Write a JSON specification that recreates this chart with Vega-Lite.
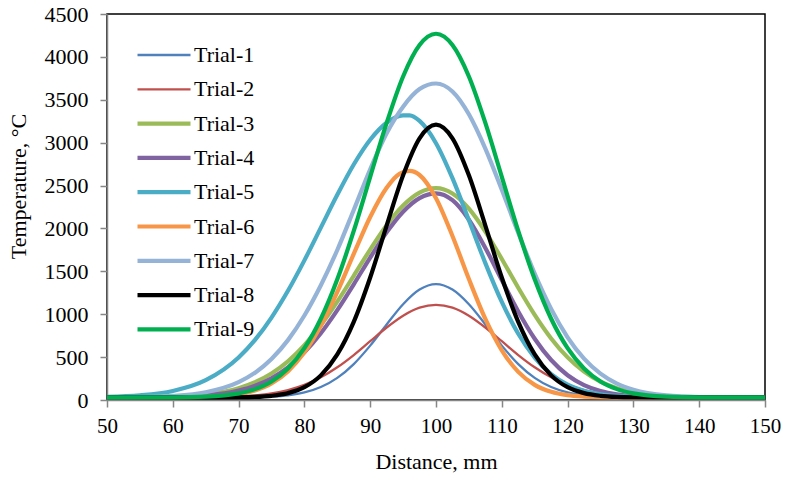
{
"$schema":"https://vega.github.io/schema/vega-lite/v6.json",
"width":658,"height":386,
"autosize":{"type":"none"},
"padding":{"left":107,"top":14,"right":21,"bottom":77},
"background":"white",
"config":{"view":{"stroke":"#000","strokeWidth":1.5},"font":"Liberation Serif",
"legend":{"orient":"none","legendX":28,"legendY":26,"direction":"vertical","symbolType":"stroke","symbolSize":2809,"clipHeight":30,"rowPadding":4.3,"labelFont":"Liberation Serif","labelFontSize":22,"labelColor":"#000","labelOffset":1,"padding":0,"symbolOpacity":1}},
"datasets":{"curves":[
{"trial":"Trial-1","distance":50,"temperature":30},{"trial":"Trial-1","distance":55,"temperature":30},{"trial":"Trial-1","distance":60,"temperature":30},{"trial":"Trial-1","distance":65,"temperature":30},{"trial":"Trial-1","distance":70,"temperature":31},{"trial":"Trial-1","distance":72.5,"temperature":34},{"trial":"Trial-1","distance":75,"temperature":40},{"trial":"Trial-1","distance":77.5,"temperature":55},{"trial":"Trial-1","distance":80,"temperature":88},{"trial":"Trial-1","distance":82.5,"temperature":151},{"trial":"Trial-1","distance":85,"temperature":258},{"trial":"Trial-1","distance":87.5,"temperature":419},{"trial":"Trial-1","distance":90,"temperature":634},{"trial":"Trial-1","distance":92.5,"temperature":881},{"trial":"Trial-1","distance":95,"temperature":1116},{"trial":"Trial-1","distance":97.5,"temperature":1287},{"trial":"Trial-1","distance":100,"temperature":1350},{"trial":"Trial-1","distance":102.5,"temperature":1287},{"trial":"Trial-1","distance":105,"temperature":1116},{"trial":"Trial-1","distance":107.5,"temperature":881},{"trial":"Trial-1","distance":110,"temperature":634},{"trial":"Trial-1","distance":112.5,"temperature":419},{"trial":"Trial-1","distance":115,"temperature":258},{"trial":"Trial-1","distance":117.5,"temperature":151},{"trial":"Trial-1","distance":120,"temperature":88},{"trial":"Trial-1","distance":122.5,"temperature":55},{"trial":"Trial-1","distance":125,"temperature":40},{"trial":"Trial-1","distance":127.5,"temperature":34},{"trial":"Trial-1","distance":130,"temperature":31},{"trial":"Trial-1","distance":135,"temperature":30},{"trial":"Trial-1","distance":140,"temperature":30},{"trial":"Trial-1","distance":145,"temperature":30},{"trial":"Trial-1","distance":150,"temperature":30},
{"trial":"Trial-2","distance":50,"temperature":30},{"trial":"Trial-2","distance":55,"temperature":30},{"trial":"Trial-2","distance":60,"temperature":30},{"trial":"Trial-2","distance":65,"temperature":32},{"trial":"Trial-2","distance":70,"temperature":42},{"trial":"Trial-2","distance":72.5,"temperature":55},{"trial":"Trial-2","distance":75,"temperature":77},{"trial":"Trial-2","distance":77.5,"temperature":116},{"trial":"Trial-2","distance":80,"temperature":176},{"trial":"Trial-2","distance":82.5,"temperature":264},{"trial":"Trial-2","distance":85,"temperature":381},{"trial":"Trial-2","distance":87.5,"temperature":524},{"trial":"Trial-2","distance":90,"temperature":685},{"trial":"Trial-2","distance":92.5,"temperature":845},{"trial":"Trial-2","distance":95,"temperature":983},{"trial":"Trial-2","distance":97.5,"temperature":1077},{"trial":"Trial-2","distance":100,"temperature":1110},{"trial":"Trial-2","distance":102.5,"temperature":1077},{"trial":"Trial-2","distance":105,"temperature":983},{"trial":"Trial-2","distance":107.5,"temperature":845},{"trial":"Trial-2","distance":110,"temperature":685},{"trial":"Trial-2","distance":112.5,"temperature":524},{"trial":"Trial-2","distance":115,"temperature":381},{"trial":"Trial-2","distance":117.5,"temperature":264},{"trial":"Trial-2","distance":120,"temperature":176},{"trial":"Trial-2","distance":122.5,"temperature":116},{"trial":"Trial-2","distance":125,"temperature":77},{"trial":"Trial-2","distance":127.5,"temperature":55},{"trial":"Trial-2","distance":130,"temperature":42},{"trial":"Trial-2","distance":135,"temperature":32},{"trial":"Trial-2","distance":140,"temperature":30},{"trial":"Trial-2","distance":145,"temperature":30},{"trial":"Trial-2","distance":150,"temperature":30},
{"trial":"Trial-3","distance":50,"temperature":30},{"trial":"Trial-3","distance":55,"temperature":32},{"trial":"Trial-3","distance":60,"temperature":39},{"trial":"Trial-3","distance":65,"temperature":65},{"trial":"Trial-3","distance":70,"temperature":137},{"trial":"Trial-3","distance":72.5,"temperature":207},{"trial":"Trial-3","distance":75,"temperature":309},{"trial":"Trial-3","distance":77.5,"temperature":451},{"trial":"Trial-3","distance":80,"temperature":639},{"trial":"Trial-3","distance":82.5,"temperature":873},{"trial":"Trial-3","distance":85,"temperature":1147},{"trial":"Trial-3","distance":87.5,"temperature":1448},{"trial":"Trial-3","distance":90,"temperature":1754},{"trial":"Trial-3","distance":92.5,"temperature":2037},{"trial":"Trial-3","distance":95,"temperature":2267},{"trial":"Trial-3","distance":97.5,"temperature":2418},{"trial":"Trial-3","distance":100,"temperature":2470},{"trial":"Trial-3","distance":102.5,"temperature":2408},{"trial":"Trial-3","distance":105,"temperature":2231},{"trial":"Trial-3","distance":107.5,"temperature":1964},{"trial":"Trial-3","distance":110,"temperature":1644},{"trial":"Trial-3","distance":112.5,"temperature":1309},{"trial":"Trial-3","distance":115,"temperature":993},{"trial":"Trial-3","distance":117.5,"temperature":718},{"trial":"Trial-3","distance":120,"temperature":497},{"trial":"Trial-3","distance":122.5,"temperature":331},{"trial":"Trial-3","distance":125,"temperature":214},{"trial":"Trial-3","distance":127.5,"temperature":137},{"trial":"Trial-3","distance":130,"temperature":89},{"trial":"Trial-3","distance":135,"temperature":45},{"trial":"Trial-3","distance":140,"temperature":33},{"trial":"Trial-3","distance":145,"temperature":31},{"trial":"Trial-3","distance":150,"temperature":30},
{"trial":"Trial-4","distance":50,"temperature":30},{"trial":"Trial-4","distance":55,"temperature":31},{"trial":"Trial-4","distance":60,"temperature":36},{"trial":"Trial-4","distance":65,"temperature":53},{"trial":"Trial-4","distance":70,"temperature":109},{"trial":"Trial-4","distance":72.5,"temperature":166},{"trial":"Trial-4","distance":75,"temperature":254},{"trial":"Trial-4","distance":77.5,"temperature":381},{"trial":"Trial-4","distance":80,"temperature":555},{"trial":"Trial-4","distance":82.5,"temperature":778},{"trial":"Trial-4","distance":85,"temperature":1047},{"trial":"Trial-4","distance":87.5,"temperature":1348},{"trial":"Trial-4","distance":90,"temperature":1661},{"trial":"Trial-4","distance":92.5,"temperature":1954},{"trial":"Trial-4","distance":95,"temperature":2195},{"trial":"Trial-4","distance":97.5,"temperature":2354},{"trial":"Trial-4","distance":100,"temperature":2410},{"trial":"Trial-4","distance":102.5,"temperature":2329},{"trial":"Trial-4","distance":105,"temperature":2102},{"trial":"Trial-4","distance":107.5,"temperature":1773},{"trial":"Trial-4","distance":110,"temperature":1398},{"trial":"Trial-4","distance":112.5,"temperature":1032},{"trial":"Trial-4","distance":115,"temperature":714},{"trial":"Trial-4","distance":117.5,"temperature":466},{"trial":"Trial-4","distance":120,"temperature":289},{"trial":"Trial-4","distance":122.5,"temperature":174},{"trial":"Trial-4","distance":125,"temperature":105},{"trial":"Trial-4","distance":127.5,"temperature":66},{"trial":"Trial-4","distance":130,"temperature":46},{"trial":"Trial-4","distance":135,"temperature":33},{"trial":"Trial-4","distance":140,"temperature":30},{"trial":"Trial-4","distance":145,"temperature":30},{"trial":"Trial-4","distance":150,"temperature":30},
{"trial":"Trial-5","distance":50,"temperature":37},{"trial":"Trial-5","distance":55,"temperature":54},{"trial":"Trial-5","distance":60,"temperature":105},{"trial":"Trial-5","distance":65,"temperature":231},{"trial":"Trial-5","distance":70,"temperature":496},{"trial":"Trial-5","distance":72.5,"temperature":701},{"trial":"Trial-5","distance":75,"temperature":961},{"trial":"Trial-5","distance":77.5,"temperature":1273},{"trial":"Trial-5","distance":80,"temperature":1628},{"trial":"Trial-5","distance":82.5,"temperature":2010},{"trial":"Trial-5","distance":85,"temperature":2392},{"trial":"Trial-5","distance":87.5,"temperature":2745},{"trial":"Trial-5","distance":90,"temperature":3034},{"trial":"Trial-5","distance":92.5,"temperature":3232},{"trial":"Trial-5","distance":95,"temperature":3318},{"trial":"Trial-5","distance":96,"temperature":3318},{"trial":"Trial-5","distance":97.5,"temperature":3253},{"trial":"Trial-5","distance":100,"temperature":2994},{"trial":"Trial-5","distance":102.5,"temperature":2586},{"trial":"Trial-5","distance":105,"temperature":2096},{"trial":"Trial-5","distance":107.5,"temperature":1596},{"trial":"Trial-5","distance":110,"temperature":1143},{"trial":"Trial-5","distance":112.5,"temperature":772},{"trial":"Trial-5","distance":115,"temperature":494},{"trial":"Trial-5","distance":117.5,"temperature":301},{"trial":"Trial-5","distance":120,"temperature":179},{"trial":"Trial-5","distance":122.5,"temperature":107},{"trial":"Trial-5","distance":125,"temperature":67},{"trial":"Trial-5","distance":127.5,"temperature":47},{"trial":"Trial-5","distance":130,"temperature":37},{"trial":"Trial-5","distance":135,"temperature":31},{"trial":"Trial-5","distance":140,"temperature":30},{"trial":"Trial-5","distance":145,"temperature":30},{"trial":"Trial-5","distance":150,"temperature":30},
{"trial":"Trial-6","distance":50,"temperature":30},{"trial":"Trial-6","distance":55,"temperature":30},{"trial":"Trial-6","distance":60,"temperature":31},{"trial":"Trial-6","distance":65,"temperature":36},{"trial":"Trial-6","distance":70,"temperature":67},{"trial":"Trial-6","distance":72.5,"temperature":111},{"trial":"Trial-6","distance":75,"temperature":193},{"trial":"Trial-6","distance":77.5,"temperature":334},{"trial":"Trial-6","distance":80,"temperature":555},{"trial":"Trial-6","distance":82.5,"temperature":866},{"trial":"Trial-6","distance":85,"temperature":1260},{"trial":"Trial-6","distance":87.5,"temperature":1703},{"trial":"Trial-6","distance":90,"temperature":2133},{"trial":"Trial-6","distance":92.5,"temperature":2474},{"trial":"Trial-6","distance":94.5,"temperature":2640},{"trial":"Trial-6","distance":96,"temperature":2670},{"trial":"Trial-6","distance":97.5,"temperature":2623},{"trial":"Trial-6","distance":100,"temperature":2352},{"trial":"Trial-6","distance":102.5,"temperature":1912},{"trial":"Trial-6","distance":105,"temperature":1410},{"trial":"Trial-6","distance":107.5,"temperature":945},{"trial":"Trial-6","distance":110,"temperature":579},{"trial":"Trial-6","distance":112.5,"temperature":328},{"trial":"Trial-6","distance":115,"temperature":176},{"trial":"Trial-6","distance":117.5,"temperature":95},{"trial":"Trial-6","distance":120,"temperature":56},{"trial":"Trial-6","distance":122.5,"temperature":40},{"trial":"Trial-6","distance":125,"temperature":33},{"trial":"Trial-6","distance":127.5,"temperature":31},{"trial":"Trial-6","distance":130,"temperature":30},{"trial":"Trial-6","distance":135,"temperature":30},{"trial":"Trial-6","distance":140,"temperature":30},{"trial":"Trial-6","distance":145,"temperature":30},{"trial":"Trial-6","distance":150,"temperature":30},
{"trial":"Trial-7","distance":50,"temperature":31},{"trial":"Trial-7","distance":55,"temperature":34},{"trial":"Trial-7","distance":60,"temperature":47},{"trial":"Trial-7","distance":65,"temperature":90},{"trial":"Trial-7","distance":70,"temperature":208},{"trial":"Trial-7","distance":72.5,"temperature":318},{"trial":"Trial-7","distance":75,"temperature":478},{"trial":"Trial-7","distance":77.5,"temperature":698},{"trial":"Trial-7","distance":80,"temperature":985},{"trial":"Trial-7","distance":82.5,"temperature":1338},{"trial":"Trial-7","distance":85,"temperature":1749},{"trial":"Trial-7","distance":87.5,"temperature":2215},{"trial":"Trial-7","distance":90,"temperature":2690},{"trial":"Trial-7","distance":92.5,"temperature":3110},{"trial":"Trial-7","distance":95,"temperature":3420},{"trial":"Trial-7","distance":97.5,"temperature":3625},{"trial":"Trial-7","distance":100,"temperature":3690},{"trial":"Trial-7","distance":102.5,"temperature":3597},{"trial":"Trial-7","distance":105,"temperature":3331},{"trial":"Trial-7","distance":107.5,"temperature":2931},{"trial":"Trial-7","distance":110,"temperature":2451},{"trial":"Trial-7","distance":112.5,"temperature":1949},{"trial":"Trial-7","distance":115,"temperature":1474},{"trial":"Trial-7","distance":117.5,"temperature":1062},{"trial":"Trial-7","distance":120,"temperature":731},{"trial":"Trial-7","distance":122.5,"temperature":482},{"trial":"Trial-7","distance":125,"temperature":307},{"trial":"Trial-7","distance":127.5,"temperature":191},{"trial":"Trial-7","distance":130,"temperature":119},{"trial":"Trial-7","distance":135,"temperature":53},{"trial":"Trial-7","distance":140,"temperature":35},{"trial":"Trial-7","distance":145,"temperature":31},{"trial":"Trial-7","distance":150,"temperature":30},
{"trial":"Trial-8","distance":50,"temperature":30},{"trial":"Trial-8","distance":55,"temperature":30},{"trial":"Trial-8","distance":60,"temperature":30},{"trial":"Trial-8","distance":65,"temperature":30},{"trial":"Trial-8","distance":70,"temperature":32},{"trial":"Trial-8","distance":72.5,"temperature":36},{"trial":"Trial-8","distance":75,"temperature":49},{"trial":"Trial-8","distance":77.5,"temperature":80},{"trial":"Trial-8","distance":80,"temperature":149},{"trial":"Trial-8","distance":82.5,"temperature":287},{"trial":"Trial-8","distance":85,"temperature":531},{"trial":"Trial-8","distance":87.5,"temperature":911},{"trial":"Trial-8","distance":90,"temperature":1428},{"trial":"Trial-8","distance":92.5,"temperature":2033},{"trial":"Trial-8","distance":95,"temperature":2619},{"trial":"Trial-8","distance":97.5,"temperature":3051},{"trial":"Trial-8","distance":100,"temperature":3210},{"trial":"Trial-8","distance":102.5,"temperature":3051},{"trial":"Trial-8","distance":105,"temperature":2619},{"trial":"Trial-8","distance":107.5,"temperature":2033},{"trial":"Trial-8","distance":110,"temperature":1428},{"trial":"Trial-8","distance":112.5,"temperature":911},{"trial":"Trial-8","distance":115,"temperature":531},{"trial":"Trial-8","distance":117.5,"temperature":287},{"trial":"Trial-8","distance":120,"temperature":149},{"trial":"Trial-8","distance":122.5,"temperature":80},{"trial":"Trial-8","distance":125,"temperature":49},{"trial":"Trial-8","distance":127.5,"temperature":36},{"trial":"Trial-8","distance":130,"temperature":32},{"trial":"Trial-8","distance":135,"temperature":30},{"trial":"Trial-8","distance":140,"temperature":30},{"trial":"Trial-8","distance":145,"temperature":30},{"trial":"Trial-8","distance":150,"temperature":30},
{"trial":"Trial-9","distance":50,"temperature":30},{"trial":"Trial-9","distance":55,"temperature":30},{"trial":"Trial-9","distance":60,"temperature":31},{"trial":"Trial-9","distance":65,"temperature":39},{"trial":"Trial-9","distance":70,"temperature":77},{"trial":"Trial-9","distance":72.5,"temperature":127},{"trial":"Trial-9","distance":75,"temperature":216},{"trial":"Trial-9","distance":77.5,"temperature":368},{"trial":"Trial-9","distance":80,"temperature":604},{"trial":"Trial-9","distance":82.5,"temperature":947},{"trial":"Trial-9","distance":85,"temperature":1407},{"trial":"Trial-9","distance":87.5,"temperature":1971},{"trial":"Trial-9","distance":90,"temperature":2602},{"trial":"Trial-9","distance":92.5,"temperature":3230},{"trial":"Trial-9","distance":95,"temperature":3772},{"trial":"Trial-9","distance":97.5,"temperature":4139},{"trial":"Trial-9","distance":100,"temperature":4270},{"trial":"Trial-9","distance":102.5,"temperature":4139},{"trial":"Trial-9","distance":105,"temperature":3772},{"trial":"Trial-9","distance":107.5,"temperature":3230},{"trial":"Trial-9","distance":110,"temperature":2602},{"trial":"Trial-9","distance":112.5,"temperature":1971},{"trial":"Trial-9","distance":115,"temperature":1407},{"trial":"Trial-9","distance":117.5,"temperature":947},{"trial":"Trial-9","distance":120,"temperature":604},{"trial":"Trial-9","distance":122.5,"temperature":368},{"trial":"Trial-9","distance":125,"temperature":216},{"trial":"Trial-9","distance":127.5,"temperature":127},{"trial":"Trial-9","distance":130,"temperature":77},{"trial":"Trial-9","distance":135,"temperature":39},{"trial":"Trial-9","distance":140,"temperature":31},{"trial":"Trial-9","distance":145,"temperature":30},{"trial":"Trial-9","distance":150,"temperature":30}
]},
"data":{"name":"curves"},
"mark":{"type":"line","interpolate":"monotone","clip":true},
"encoding":{
"x":{"field":"distance","type":"quantitative","scale":{"domain":[50,150],"nice":false,"zero":false},
"axis":{"title":"Distance, mm","values":[50,60,70,80,90,100,110,120,130,140,150],"grid":false,"domainColor":"#868686","domainWidth":1.5,"tickColor":"#868686","tickWidth":1.5,"tickSize":7,"labelFont":"Liberation Serif","labelFontSize":21,"labelColor":"#000","labelPadding":8,"labelFlush":false,"titleFont":"Liberation Serif","titleFontSize":22,"titleFontWeight":"normal","titleColor":"#000","titleBaseline":"alphabetic","titleY":68}},
"y":{"field":"temperature","type":"quantitative","scale":{"domain":[0,4500],"nice":false},
"axis":{"title":"Temperature, °C","format":"d","values":[0,500,1000,1500,2000,2500,3000,3500,4000,4500],"grid":false,"domainColor":"#868686","domainWidth":1.5,"tickColor":"#868686","tickWidth":1.5,"tickSize":7,"labelFont":"Liberation Serif","labelFontSize":22,"labelColor":"#000","labelPadding":12,"labelFlush":false,"titleFont":"Liberation Serif","titleFontSize":22,"titleFontWeight":"normal","titleColor":"#000","titleBaseline":"middle","titleX":-89,"titleY":172}},
"color":{"field":"trial","type":"nominal","scale":{"domain":["Trial-1","Trial-2","Trial-3","Trial-4","Trial-5","Trial-6","Trial-7","Trial-8","Trial-9"],"range":["#4F81BD","#C0504D","#9BBB59","#8064A2","#4BACC6","#F79646","#95B3D7","#000000","#00B050"]},"legend":{"title":null}},
"strokeWidth":{"field":"trial","type":"nominal","scale":{"type":"ordinal","domain":["Trial-1","Trial-2","Trial-3","Trial-4","Trial-5","Trial-6","Trial-7","Trial-8","Trial-9"],"range":[2.3,2.3,4.2,4.2,4.2,4.2,4.2,4.2,4.2]},"legend":{"title":null}}
}
}
